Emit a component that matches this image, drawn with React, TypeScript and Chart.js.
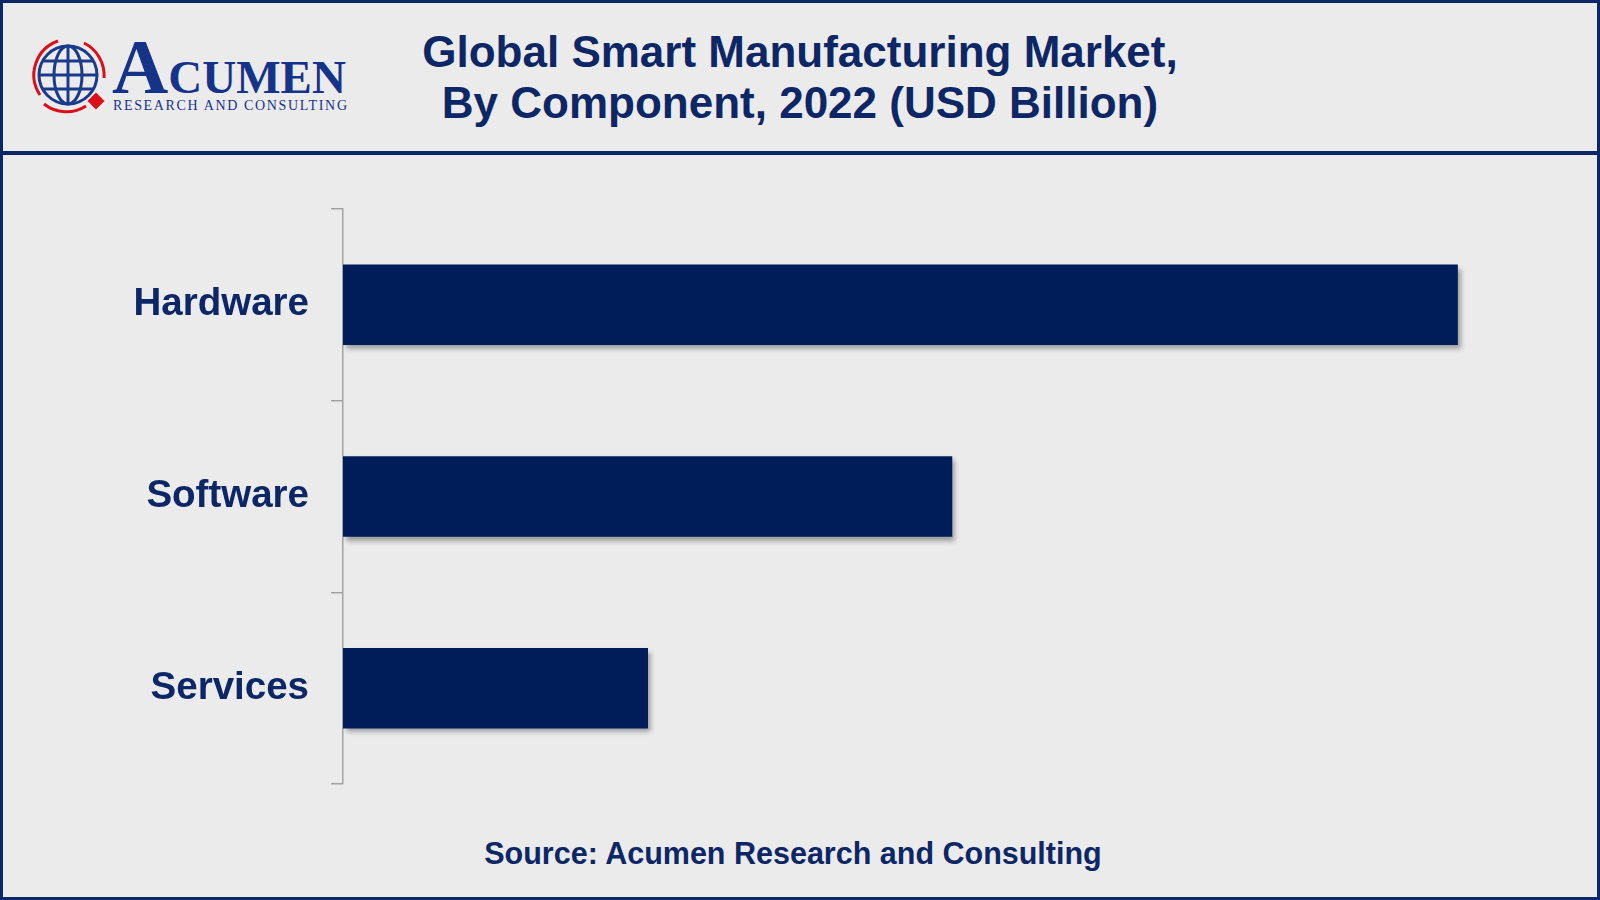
import React, { useEffect, useRef } from 'react';
import { Chart, registerables } from 'chart.js';

Chart.register(...registerables);

const categories: string[] = ['Hardware', 'Software', 'Services'];
const values: number[] = [148.4, 81.1, 40.6];
const xMin = 0;
const xMax = 160;
const titleLines: string[] = ['Global Smart Manufacturing Market,', 'By Component, 2022 (USD Billion)'];
const sourceText = 'Source: Acumen Research and Consulting';

const NAVY = '#0d2766';
const BAR = '#001d5a';
const BG = '#ebebeb';
const SANS = '"Liberation Sans", Arial, Helvetica, sans-serif';
const SERIF = '"Liberation Serif", "DejaVu Serif", serif';

const shadowPlugin = {
  id: 'barShadow',
  beforeDatasetsDraw(chart: any) {
    const ctx = chart.ctx;
    ctx.save();
    ctx.shadowColor = 'rgba(0,0,0,0.35)';
    ctx.shadowBlur = 5;
    ctx.shadowOffsetX = 3;
    ctx.shadowOffsetY = 4;
  },
  afterDatasetsDraw(chart: any) {
    chart.ctx.restore();
  },
};

function Logo() {
  return (
    <svg width={400} height={150} style={{ position: 'absolute', left: 0, top: 0 }}>
      <g fill="none" stroke="#d9101a" strokeWidth={3}>
        <path d="M 40 95 A 36 36 0 0 1 58 41" />
        <path d="M 84 43 A 36 36 0 0 1 104 78" />
        <path d="M 86 106 A 36 36 0 0 1 44 104" />
      </g>
      <g fill="none" stroke="#1a3a8c" strokeWidth={3}>
        <circle cx={68} cy={75} r={29} />
        <ellipse cx={68} cy={75} rx={14} ry={29} />
        <line x1={68} y1={46} x2={68} y2={104} />
        <line x1={39} y1={75} x2={97} y2={75} />
        <line x1={43} y1={61} x2={93} y2={61} />
        <line x1={43} y1={89} x2={93} y2={89} />
      </g>
      <rect x={90} y={95} width={12} height={12} fill="#d9101a" transform="rotate(45 96 101)" />
      <text x={112} y={93} fontFamily={SERIF} fontWeight="bold" fill="#16338a">
        <tspan fontSize={78}>A</tspan>
        <tspan fontSize={47}>CUMEN</tspan>
      </text>
      <text x={113} y={110} fontFamily={SERIF} fontSize={14} fill="#16338a" textLength={234} lengthAdjust="spacing">
        RESEARCH AND CONSULTING
      </text>
    </svg>
  );
}

export default function App() {
  const canvasRef = useRef<HTMLCanvasElement | null>(null);

  useEffect(() => {
    document.body.style.margin = '0';
    const canvas = canvasRef.current;
    if (!canvas) return;
    const chart = new Chart(canvas, {
      type: 'bar',
      data: {
        labels: categories,
        datasets: [
          {
            data: values,
            backgroundColor: BAR,
            borderWidth: 0,
            barPercentage: 0.42,
            categoryPercentage: 1,
          },
        ],
      },
      options: {
        indexAxis: 'y',
        animation: false,
        responsive: false,
        devicePixelRatio: 1,
        layout: { padding: { top: 19, bottom: 16, left: 0, right: 55 } },
        plugins: {
          legend: { display: false },
          tooltip: { enabled: false },
          title: { display: false },
        },
        scales: {
          x: {
            display: false,
            min: xMin,
            max: xMax,
          },
          y: {
            afterFit(scale: any) {
              scale.width = 343;
              scale.paddingTop = 0;
              scale.paddingBottom = 0;
            },
            grid: {
              display: true,
              drawOnChartArea: false,
              drawTicks: true,
              tickLength: 12,
              color: '#a3a3a3',
              lineWidth: 1.5,
            },
            border: { display: true, color: '#a3a3a3', width: 1.5 },
            ticks: {
              padding: 22,
              color: NAVY,
              font: { family: SANS, size: 38.5, weight: 'bold' },
            },
          },
        },
      },
      plugins: [shadowPlugin],
    });
    return () => chart.destroy();
  }, []);

  return (
    <div
      style={{
        position: 'relative',
        width: 1600,
        height: 900,
        boxSizing: 'border-box',
        border: `3px solid ${NAVY}`,
        background: BG,
        overflow: 'hidden',
      }}
    >
      <div style={{ position: 'absolute', left: -3, top: -3 }}>
        <Logo />
      </div>
      <div
        style={{
          position: 'absolute',
          left: -3,
          top: 23,
          width: 1600,
          textAlign: 'center',
          fontFamily: SANS,
          fontWeight: 'bold',
          fontSize: 44,
          lineHeight: '51px',
          color: NAVY,
        }}
      >
        {titleLines.map((l, i) => (
          <div key={i}>{l}</div>
        ))}
      </div>
      <div
        style={{
          position: 'absolute',
          left: -3,
          top: 148,
          width: 1600,
          height: 4,
          background: NAVY,
        }}
      />
      <div style={{ position: 'absolute', left: -3, top: 187 }}>
        <canvas ref={canvasRef} width={1600} height={610} style={{ width: 1600, height: 610, display: 'block' }} />
      </div>
      <div
        style={{
          position: 'absolute',
          left: -3,
          top: 835,
          width: 1586,
          textAlign: 'center',
          fontFamily: SANS,
          fontWeight: 'bold',
          fontSize: 30.5,
          lineHeight: '30px',
          color: NAVY,
        }}
      >
        {sourceText}
      </div>
    </div>
  );
}
